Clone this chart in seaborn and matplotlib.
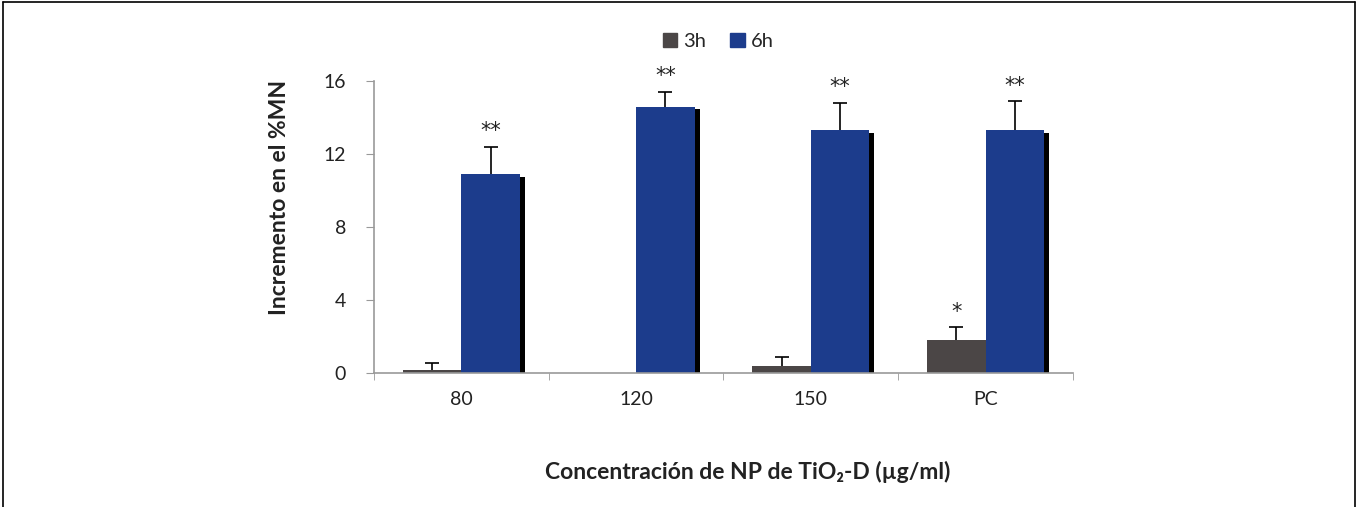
import numpy as np
import pandas as pd
import matplotlib
matplotlib.use("Agg")
import matplotlib.pyplot as plt
import matplotlib.patheffects as pe
from matplotlib.lines import Line2D
import seaborn as sns

# data
categories = ["80", "120", "150", "PC"]
mean_3h = [0.15, 0.0, 0.4, 1.8]
err_3h = [0.4, 0.0, 0.45, 0.7]
mean_6h = [10.9, 14.6, 13.3, 13.3]
err_6h = [1.5, 0.8, 1.5, 1.6]
stars_3h = ["", "", "", "*"]
stars_6h = ["**", "**", "**", "**"]
series = ["3h", "6h"]
colors = {"3h": "#4b4646", "6h": "#1c3c8c"}

df = pd.DataFrame({
    "conc": categories * 2,
    "value": mean_3h + mean_6h,
    "time": ["3h"] * 4 + ["6h"] * 4,
})

sns.set_style("white")
plt.rcParams["font.family"] = ["Lato", "DejaVu Sans"]

fig = plt.figure(figsize=(13.58, 5.07), dpi=100)
ax = fig.add_axes([0.2754, 0.2643, 0.5147, 0.5759])

sns.barplot(data=df, x="conc", y="value", hue="time", order=categories,
            hue_order=series, palette=colors, width=0.67, saturation=1,
            errorbar=None, ax=ax, legend=False)

# shadow on the 6h bars and upper error bars
errs = {"3h": err_3h, "6h": err_6h}
stars = {"3h": stars_3h, "6h": stars_6h}
for cont, s in zip(ax.containers, series):
    xs, ys = [], []
    for bar in cont:
        bar.set_edgecolor("none")
        xs.append(bar.get_x() + bar.get_width() / 2)
        ys.append(bar.get_height())
        if s == "6h":
            bar.set_path_effects([pe.SimplePatchShadow(offset=(3.5, -2), shadow_rgbFace="black", alpha=1), pe.Normal()])
    e = np.array(errs[s])
    mask = e > 0
    eb = ax.errorbar(np.array(xs)[mask], np.array(ys)[mask], yerr=[np.zeros(mask.sum()), e[mask]],
                     fmt="none", ecolor="black", elinewidth=1.2, capsize=5, capthick=1.2, zorder=5)
    eb.lines[1][0].set_visible(False)  # hide lower cap
    for x, y, err, st in zip(xs, ys, errs[s], stars[s]):
        if st:
            ax.text(x, y + err + 0.3, st, ha="center", va="bottom", fontsize=15,
                    family="DejaVu Sans", color="#222222")

ax.set_ylim(0, 16)
ax.set_xlim(-0.5, 3.5)
ax.set_yticks([0, 4, 8, 12, 16])
ax.set_xticks(np.arange(-0.5, 4.0, 1.0), minor=True)
ax.tick_params(axis="x", which="major", length=0, labelsize=14, pad=13, colors="#222222")
ax.tick_params(axis="x", which="minor", length=5, color="#999999", direction="out", bottom=True)
ax.tick_params(axis="y", length=6, direction="out", left=True, labelsize=14,
               pad=14, color="#999999", labelcolor="#222222")
for side in ["top", "right"]:
    ax.spines[side].set_visible(False)
for side in ["left", "bottom"]:
    ax.spines[side].set_color("#999999")
    ax.spines[side].set_linewidth(1.2)

ax.set_ylabel("Incremento en el %MN", fontsize=16.5, fontweight="bold", color="#222222")
ax.yaxis.set_label_coords(-0.12, 0.60)
ax.set_xlabel("Concentración de NP de TiO₂-D (µg/ml)", fontsize=16.5, fontweight="bold",
              color="#222222")
ax.xaxis.set_label_coords(0.535, -0.30)

handles = [plt.Rectangle((0, 0), 1, 1, color=colors[s]) for s in series]
fig.legend(handles, series, loc="center", bbox_to_anchor=(0.529, 0.919), ncol=2,
           frameon=False, fontsize=14.5, handlelength=0.7, handleheight=0.7,
           handletextpad=0.3, columnspacing=1.2)

# figure frame (top, left, right)
for xy in [([0.002, 0.002], [0.0, 0.996]), ([0.002, 0.998], [0.996, 0.996]),
           ([0.998, 0.998], [0.996, 0.0])]:
    fig.add_artist(Line2D(xy[0], xy[1], color="black", linewidth=1.2))

fig.savefig("out.png", dpi=100)
